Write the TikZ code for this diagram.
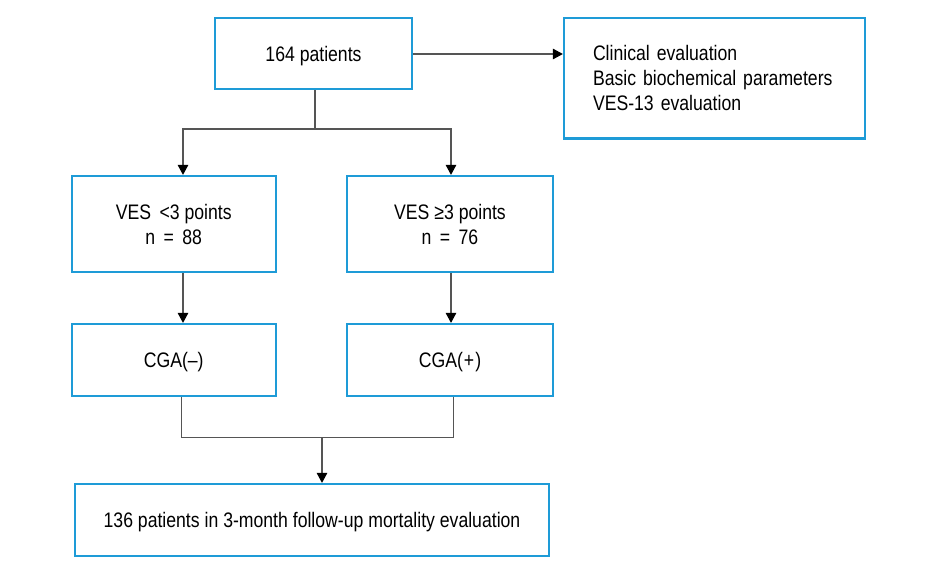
\documentclass[tikz,border=0pt]{standalone}
\usepackage{fontspec}
\setmainfont{Liberation Sans}[FakeStretch=0.84]
\usetikzlibrary{arrows.meta}
\definecolor{boxblue}{HTML}{1E9BD7}
\definecolor{linegray}{HTML}{555555}
\tikzset{
  box/.style={draw=boxblue, line width=2.2pt, rectangle, inner sep=0pt, align=center,
    font=\fontsize{21}{25}\selectfont},
  onebox/.style={box, text height=15pt, text depth=0pt},
  conn/.style={draw=linegray, line width=1.1pt},
  arr/.style={conn, -{Triangle[length=10pt,width=10.5pt,color=black]}}
}
\begin{document}
\begin{tikzpicture}[x=1pt,y=-1pt]
\useasboundingbox (0,0) rectangle (951,571);
\node[onebox, minimum width=197pt, minimum height=71pt] (top) at (313.5,53.5) {164 patients};
\node[box, minimum width=301pt, minimum height=120.5pt, align=left, text width=243pt] (right) at (714.5,78.25)
  {Clinical evaluation\\Basic biochemical parameters\\VES-13 evaluation};
\node[box, minimum width=204pt, minimum height=96pt] (vl) at (173.7,224) {VES \,{<}3 points\\n \,=\, 88};
\node[box, minimum width=206pt, minimum height=96pt] (vr) at (450,224) {VES ≥3 points\\n \,=\, 76};
\node[onebox, minimum width=204pt, minimum height=72pt] (cl) at (173.7,360) {CGA(–)};
\node[onebox, minimum width=206pt, minimum height=72pt] (cr) at (450,360) {CGA(\kern1pt+\kern1pt)};
\node[onebox, minimum width=474pt, minimum height=72pt] (bot) at (312,520) {136 patients in 3-month follow-up mortality evaluation};
% split
\coordinate (s1) at (315,129);
\coordinate (xl) at (183,0);
\coordinate (xr) at (451,0);
\draw[conn] (top.south -| s1) -- (s1);
\draw[arr] (s1) -| (vl.north -| xl);
\draw[arr] (s1) -| (vr.north -| xr);
\draw[arr] (top.east |- 0,54) -- (right.west |- 0,54);
\draw[arr] (vl.south -| xl) -- (cl.north -| xl);
\draw[arr] (vr.south -| xr) -- (cr.north -| xr);
% merge
\coordinate (m1) at (322,437.7);
\coordinate (xl2) at (181.7,0);
\coordinate (xr2) at (453.3,0);
\draw[conn] (cl.south -| xl2) |- (m1);
\draw[conn] (cr.south -| xr2) |- (m1);
\draw[arr] (m1) -- (bot.north -| m1);
\end{tikzpicture}
\end{document}
